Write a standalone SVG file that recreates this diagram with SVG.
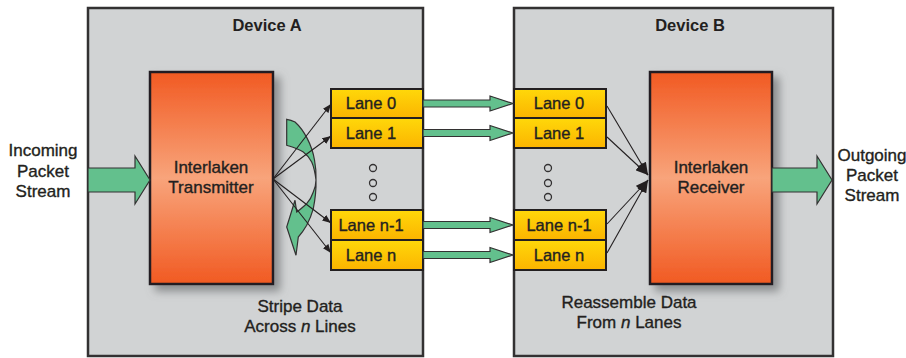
<svg xmlns="http://www.w3.org/2000/svg" width="906" height="358" viewBox="0 0 906 358">
  <defs>
    <linearGradient id="blockFill" x1="0" y1="0" x2="0" y2="1">
      <stop offset="0" stop-color="#f15a22"/>
      <stop offset="0.5" stop-color="#f8a47b"/>
      <stop offset="1" stop-color="#f15a22"/>
    </linearGradient>
    <linearGradient id="laneFill" x1="0" y1="0" x2="0" y2="1">
      <stop offset="0" stop-color="#ffd80a"/>
      <stop offset="1" stop-color="#fbb400"/>
    </linearGradient>
    <filter id="shadow" x="-20%" y="-20%" width="150%" height="150%">
      <feDropShadow dx="6" dy="6" stdDeviation="4" flood-color="#6d6e71" flood-opacity="0.7"/>
    </filter>
    <marker id="head" viewBox="0 0 10 8" refX="10" refY="4" markerWidth="9" markerHeight="7" markerUnits="userSpaceOnUse" orient="auto">
      <path d="M0,0 L10,4 L0,8 Z" fill="#231f20"/>
    </marker>
    <marker id="headBig" viewBox="0 0 10 8" refX="10" refY="4" markerWidth="13" markerHeight="10" markerUnits="userSpaceOnUse" orient="auto">
      <path d="M0,0 L10,4 L0,8 Z" fill="#231f20"/>
    </marker>
  </defs>
  <style>
    .device { fill: #d1d3d4; stroke: #333132; stroke-width: 2.5; }
    .block { fill: url(#blockFill); stroke: #231f20; stroke-width: 2.5; filter: url(#shadow); }
    .lane { fill: url(#laneFill); stroke: #231f20; stroke-width: 2; }
    .flow { fill: #63c08d; stroke: #333132; stroke-width: 1.2; stroke-linejoin: miter; }
    .fan { stroke: #231f20; stroke-width: 1.1; fill: none; }
    .dot { fill: none; stroke: #333132; stroke-width: 1.3; }
    text { font-family: "Liberation Sans", Arial, Helvetica, sans-serif; fill: #231f20; text-anchor: middle; stroke: #231f20; stroke-width: 0.35px; }
    .title { font-size: 16.5px; font-weight: bold; stroke-width: 0; }
    .label { font-size: 17px; }
    .lanetxt { font-size: 16.5px; }
  </style>

  <!-- Device enclosures -->
  <g id="device-a">
    <rect class="device" x="88" y="8" width="335" height="348"/>
    <text class="title" x="267" y="31">Device A</text>
  </g>
  <g id="device-b">
    <rect class="device" x="514" y="8" width="319" height="348"/>
    <text class="title" x="690" y="31">Device B</text>
  </g>

  <!-- Transmitter / receiver blocks -->
  <g id="transmitter">
    <rect class="block" x="150" y="72" width="123" height="212"/>
    <text class="label" x="211" y="173">Interlaken</text>
    <text class="label" x="211" y="193">Transmitter</text>
  </g>
  <g id="receiver">
    <rect class="block" x="650" y="72" width="122" height="212"/>
    <text class="label" x="711" y="173">Interlaken</text>
    <text class="label" x="711" y="193">Receiver</text>
  </g>

  <!-- Lanes of device A -->
  <g id="tx-lane-0">
    <rect class="lane" x="331" y="89" width="92" height="29"/>
    <text class="lanetxt" x="371" y="109">Lane 0</text>
  </g>
  <g id="tx-lane-1">
    <rect class="lane" x="331" y="118" width="92" height="30"/>
    <text class="lanetxt" x="371" y="139">Lane 1</text>
  </g>
  <g id="tx-lane-n-1">
    <rect class="lane" x="331" y="210" width="92" height="30"/>
    <text class="lanetxt" x="371" y="231">Lane n-1</text>
  </g>
  <g id="tx-lane-n">
    <rect class="lane" x="331" y="240" width="92" height="30"/>
    <text class="lanetxt" x="371" y="261">Lane n</text>
  </g>
  <g id="tx-ellipsis">
    <circle class="dot" cx="373" cy="168" r="3.5"/>
    <circle class="dot" cx="373" cy="183" r="3.5"/>
    <circle class="dot" cx="373" cy="197" r="3.5"/>
  </g>

  <!-- Lanes of device B -->
  <g id="rx-lane-0">
    <rect class="lane" x="514" y="89" width="92" height="29"/>
    <text class="lanetxt" x="559" y="109">Lane 0</text>
  </g>
  <g id="rx-lane-1">
    <rect class="lane" x="514" y="118" width="92" height="30"/>
    <text class="lanetxt" x="559" y="139">Lane 1</text>
  </g>
  <g id="rx-lane-n-1">
    <rect class="lane" x="514" y="210" width="92" height="30"/>
    <text class="lanetxt" x="559" y="231">Lane n-1</text>
  </g>
  <g id="rx-lane-n">
    <rect class="lane" x="514" y="240" width="92" height="30"/>
    <text class="lanetxt" x="559" y="261">Lane n</text>
  </g>
  <g id="rx-ellipsis">
    <circle class="dot" cx="548" cy="168" r="3.5"/>
    <circle class="dot" cx="548" cy="183" r="3.5"/>
    <circle class="dot" cx="548" cy="197" r="3.5"/>
  </g>

  <!-- Outside labels -->
  <g id="incoming">
    <text class="label" x="43" y="156">Incoming</text>
    <text class="label" x="43" y="177">Packet</text>
    <text class="label" x="43" y="197">Stream</text>
  </g>
  <g id="outgoing">
    <text class="label" x="872" y="161">Outgoing</text>
    <text class="label" x="872" y="181">Packet</text>
    <text class="label" x="872" y="201">Stream</text>
  </g>
  <g id="stripe-note">
    <text class="label" x="300" y="312">Stripe Data</text>
    <text class="label" x="300" y="332">Across <tspan font-style="italic">n</tspan> Lines</text>
  </g>
  <g id="reassemble-note">
    <text class="label" x="629" y="308">Reassemble Data</text>
    <text class="label" x="629" y="328">From <tspan font-style="italic">n</tspan> Lanes</text>
  </g>

  <!-- Connectors -->
  <g id="connectors">
    <!-- packet stream in and out -->
    <path class="flow" d="M88,168 L135,168 L135,156 L150,180 L135,204 L135,192 L88,192 Z"/>
    <path class="flow" d="M772,168 L817,168 L817,156 L832,180 L817,204 L817,192 L772,192 Z"/>

    <!-- lane-to-lane links -->
    <path class="flow" d="M423,100 L490,100 L490,96 L513,103.5 L490,111 L490,107 L423,107 Z"/>
    <path class="flow" d="M423,129.5 L490,129.5 L490,125.5 L513,133 L490,140.5 L490,136.5 L423,136.5 Z"/>
    <path class="flow" d="M423,221.5 L490,221.5 L490,217.5 L513,225 L490,232.5 L490,228.5 L423,228.5 Z"/>
    <path class="flow" d="M423,251.5 L490,251.5 L490,247.5 L513,255 L490,262.5 L490,258.5 L423,258.5 Z"/>

    <!-- striping rotation arrow -->
    <path class="flow" d="M286.7,119.3 Q291,120 295,122 C304,130 312,145 314.5,160 C316,168 316.3,174 316,180 C316.3,190 315,200 313.3,208.7 C311,217 309,221 306.7,225.3 C304,230 301,234 298.3,237 L296,255.3 L286.7,227 L295,200.3 L296.7,212 C301,209 304,206 306.7,203.7 C310,200 312,196 313.3,192 C315,188 316,184 316,180 C315,172 314,167 311.7,162 C309,157 306,154 303.3,152 C300,150 297,149 295,148 C292,147 289,146 286.7,145.3 Z"/>

    <!-- transmitter fan-out -->
    <line class="fan" x1="273" y1="179" x2="331" y2="104" marker-end="url(#head)"/>
    <line class="fan" x1="273" y1="179" x2="331" y2="136" marker-end="url(#head)"/>
    <line class="fan" x1="273" y1="179" x2="331" y2="223" marker-end="url(#head)"/>
    <line class="fan" x1="273" y1="179" x2="331" y2="253" marker-end="url(#head)"/>

    <!-- receiver fan-in -->
    <line class="fan" x1="607" y1="106" x2="648" y2="175" marker-end="url(#headBig)"/>
    <line class="fan" x1="607" y1="137" x2="648" y2="175" marker-end="url(#headBig)"/>
    <line class="fan" x1="607" y1="224" x2="648" y2="180" marker-end="url(#headBig)"/>
    <line class="fan" x1="607" y1="253" x2="648" y2="180" marker-end="url(#headBig)"/>
  </g>
</svg>
